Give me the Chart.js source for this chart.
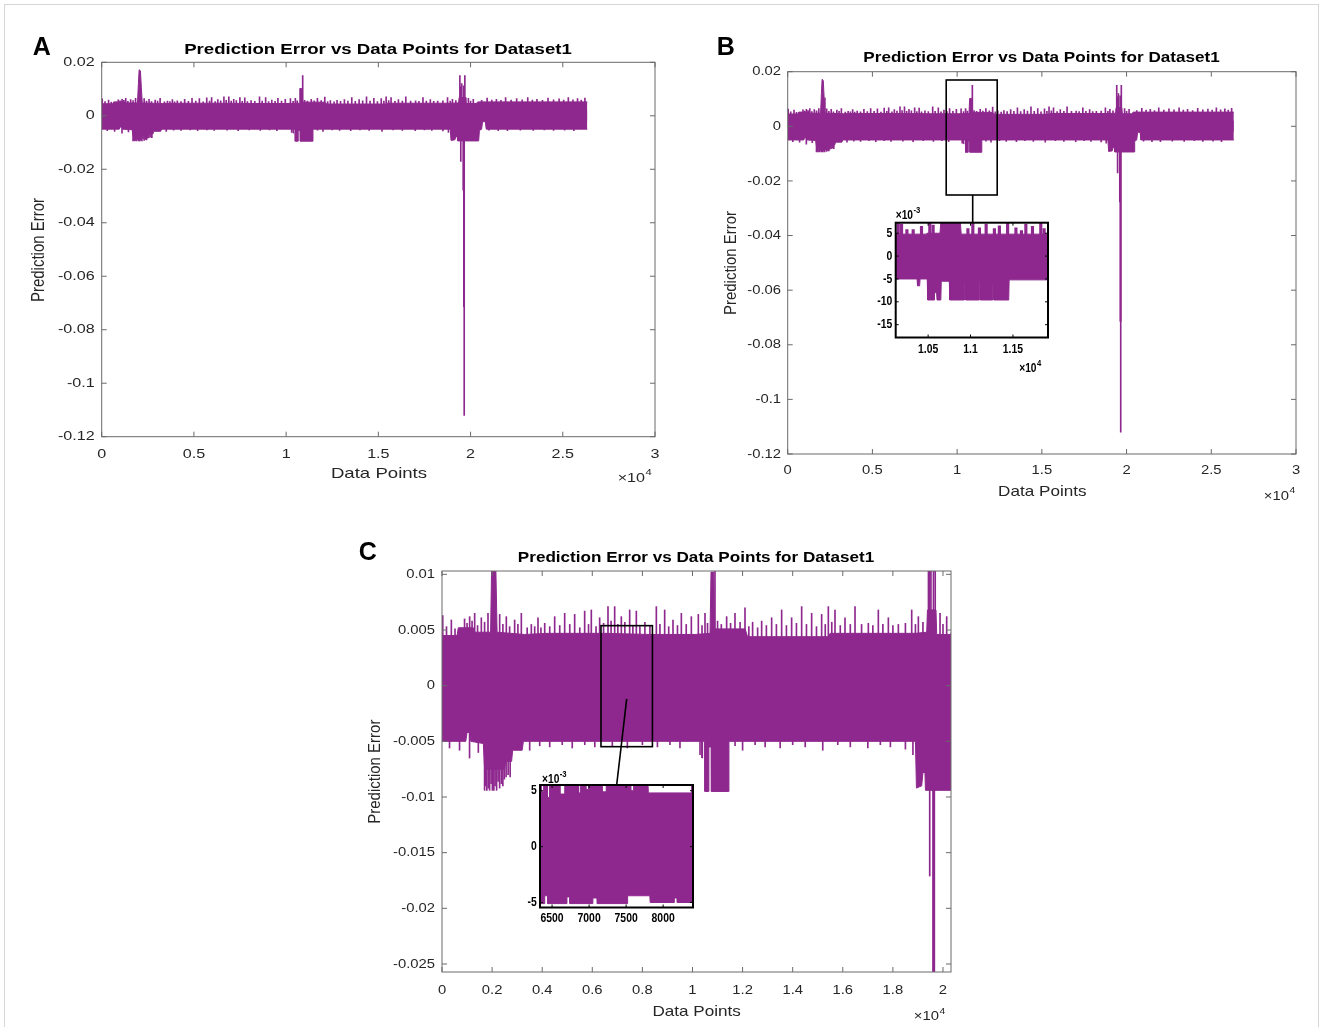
<!DOCTYPE html>
<html>
<head>
<meta charset="utf-8">
<script src="https://cdn.jsdelivr.net/npm/chart.js@4/dist/chart.umd.min.js"></script>
<style>
  body { margin: 0; background: #fff; }
  #wrap { position: relative; width: 1328px; height: 1027px; overflow: hidden; }
  #frame { position: absolute; left: 4px; top: 4px; width: 1313px; height: 1060px; border: 1px solid #d6d6d6; }
  canvas { position: absolute; left: 0; top: 0; }
</style>
</head>
<body>
<div id="wrap">
  <div id="frame"></div>
  <canvas id="panelA" width="1328" height="1027"></canvas>
  <canvas id="panelB" width="1328" height="1027"></canvas>
  <canvas id="insetB" width="1328" height="1027"></canvas>
  <canvas id="panelC" width="1328" height="1027"></canvas>
  <canvas id="insetC" width="1328" height="1027"></canvas>
</div>
<script>
// Prediction error band (upper / lower edge of the dense trace)
const topX = [0, 600, 650, 1250, 1300, 1940, 1990, 2030, 2100, 2150, 2200, 3300, 4200, 6500, 8300, 10100,
  10700, 10740, 10850, 10880, 12100, 12200, 15400, 15500, 18900, 19350, 19380, 19720, 19750, 20300, 20400, 26330];
const topY = [0.0045, 0.0045, 0.0052, 0.0052, 0.0048, 0.0048, 0.0120, 0.0172, 0.0168, 0.0105, 0.0048, 0.0046,
  0.0047, 0.0047, 0.0046, 0.0046, 0.0047, 0.0102, 0.0102, 0.0051, 0.0051, 0.0044, 0.0044, 0.0047, 0.0047,
  0.0048, 0.0068, 0.0068, 0.0046, 0.0046, 0.0052, 0.0052];
const botX = [0, 950, 1000, 1100, 1150, 1650, 1700, 2500, 2550, 2780, 2820, 3200, 3250,
  10370, 10375, 10400, 10405, 10490, 10495, 10650, 10655, 10750, 10755, 11450, 11455, 18900, 18940, 19150,
  19200, 19280, 19300, 20440, 20480, 20600, 20650, 20800, 20850, 26330];
const botY = [-0.005, -0.005, -0.0042, -0.0042, -0.005, -0.0052, -0.0075, -0.0075, -0.0068, -0.0068,
  -0.0058, -0.0058, -0.005, -0.005, -0.0065, -0.0065, -0.005, -0.005,
  -0.0095, -0.0095, -0.0055, -0.0055, -0.0095, -0.0095, -0.005, -0.005, -0.0092, -0.009,
  -0.0078, -0.0078, -0.0094, -0.0094, -0.0055, -0.005, -0.0022, -0.0022, -0.005, -0.005];

// single spikes sticking out of the band: [data point, error]
const upSpikes = [[30, 0.0063], [180, 0.0053], [373, 0.0059], [520, 0.0051], [900, 0.0060], [1000, 0.0056],
  [1104, 0.0062], [1200, 0.0058], [1304, 0.0065], [1420, 0.0054], [1570, 0.0061], [1700, 0.0057],
  [1836, 0.0065], [2302, 0.0064], [2430, 0.0055], [2568, 0.0062], [2700, 0.0053], [2900, 0.0059],
  [3030, 0.0055], [3167, 0.0065], [3400, 0.0052], [3566, 0.0055], [3700, 0.0053], [3832, 0.0061],
  [3950, 0.0052], [4100, 0.0056], [4300, 0.0053], [4498, 0.0062], [4700, 0.0054], [4897, 0.0065],
  [5100, 0.0055], [5296, 0.0064], [5500, 0.0052], [5695, 0.0067], [5850, 0.0055], [5961, 0.0068],
  [6150, 0.0053], [6294, 0.0061], [6450, 0.0056], [6627, 0.0071], [6750, 0.0058], [6893, 0.0071],
  [7020, 0.0055], [7159, 0.0062], [7300, 0.0057], [7492, 0.0068], [7620, 0.0054], [7758, 0.0067],
  [7900, 0.0053], [8100, 0.0057], [8300, 0.0054], [8557, 0.0071], [8700, 0.0055], [8889, 0.0068],
  [9050, 0.0053], [9222, 0.0059], [9400, 0.0054], [9555, 0.0065], [9750, 0.0055], [9954, 0.0062],
  [10233, 0.0064], [10380, 0.0054], [10499, 0.0065], [10600, 0.0056], [10898, 0.0150], [11000, 0.0058],
  [11150, 0.0055], [11363, 0.0062], [11520, 0.0056], [11696, 0.0065], [11900, 0.0057], [12096, 0.0070],
  [12250, 0.0053], [12400, 0.0057], [12600, 0.0052], [12761, 0.0058], [12950, 0.0054], [13160, 0.0061],
  [13350, 0.0055], [13559, 0.0068], [13750, 0.0054], [13958, 0.0061], [14150, 0.0056], [14358, 0.0071],
  [14550, 0.0055], [14757, 0.0065], [14950, 0.0053], [15156, 0.0064], [15300, 0.0055], [15423, 0.0071],
  [15560, 0.0057], [15689, 0.0068], [15900, 0.0054], [16088, 0.0061], [16300, 0.0055], [16488, 0.0071],
  [16750, 0.0055], [17020, 0.0056], [17200, 0.0054], [17419, 0.0068], [17600, 0.0055], [17819, 0.0061],
  [18000, 0.0054], [18218, 0.0055], [18500, 0.0056], [18751, 0.0068], [18900, 0.0055], [19017, 0.0062],
  [19200, 0.0057], [19420, 0.0150], [19470, 0.0108], [19520, 0.0120], [19620, 0.0112], [19690, 0.0150],
  [19882, 0.0065], [20000, 0.0055], [20148, 0.0062], [20600, 0.0058], [20900, 0.0066], [21150, 0.0059],
  [21400, 0.0062], [21650, 0.0058], [21900, 0.0068], [22200, 0.0059], [22500, 0.0064], [22800, 0.0060],
  [23100, 0.0068], [23350, 0.0059], [23600, 0.0062], [23900, 0.0058], [24200, 0.0066], [24500, 0.0060],
  [24800, 0.0063], [25050, 0.0059], [25300, 0.0068], [25550, 0.0060], [25800, 0.0064], [26000, 0.0059],
  [26200, 0.0066]];
const downSpikes = [[300, -0.0056], [700, -0.0058], [1100, -0.0065], [1450, -0.0060],
  [1700, -0.0094], [1740, -0.0090], [1790, -0.0094], [1850, -0.0092], [1900, -0.0094], [1960, -0.0088],
  [2010, -0.0094], [2070, -0.0094], [2120, -0.0090], [2180, -0.0094], [2240, -0.0086], [2300, -0.0092],
  [2370, -0.0088], [2430, -0.0090], [2490, -0.0084], [2560, -0.0082], [2640, -0.0080], [2720, -0.0082],
  [3500, -0.0058], [3900, -0.0054], [4300, -0.0055], [4800, -0.0053], [5200, -0.0056], [5700, -0.0053],
  [6100, -0.0055], [6800, -0.0054], [7400, -0.0056], [8000, -0.0053], [8600, -0.0055], [9100, -0.0053],
  [9500, -0.0056], [10300, -0.0062], [11700, -0.0054], [12000, -0.0058], [12500, -0.0053], [12900, -0.0055],
  [13500, -0.0056], [14000, -0.0053], [14500, -0.0055], [15200, -0.0058], [15800, -0.0053],
  [16300, -0.0055], [17000, -0.0056], [17500, -0.0053], [17900, -0.0055], [18500, -0.0057],
  [18800, -0.0062], [19470, -0.0171], [19600, -0.0277], [19640, -0.0714], [19645, -0.0714],
  [19655, -0.112], [21000, -0.0054], [21500, -0.0056], [22000, -0.0056], [22700, -0.0054],
  [23400, -0.0055], [24000, -0.0053], [24500, -0.0055], [25100, -0.0054], [25600, -0.0056]];

// inset of panel B (1.01e4 .. 1.19e4)
const ibTopX = [10118, 10480, 10485, 10640, 10650, 10880, 10890, 11913];
const ibTopY = [0.0048, 0.0048, 0.0050, 0.0050, 0.0075, 0.0075, 0.0048, 0.0048];
const ibBotX = [10118, 10370, 10375, 10400, 10405, 10490, 10495, 10570, 10575, 10600, 10605, 10650, 10655,
  10750, 10755, 10925, 10928, 10940, 10943, 11100, 11103, 11112, 11115, 11260, 11263, 11272, 11275,
  11450, 11455, 11913];
const ibBotY = [-0.0050, -0.0050, -0.0065, -0.0065, -0.0050, -0.0050, -0.0096, -0.0096, -0.0080, -0.0080,
  -0.0096, -0.0096, -0.0055, -0.0055, -0.0096, -0.0096, -0.0060, -0.0060, -0.0096, -0.0096,
  -0.0055, -0.0055, -0.0096, -0.0096, -0.0065, -0.0065, -0.0096, -0.0096, -0.0052, -0.0052];
const ibSpikes = [[10148, 0.0075], [10187, 0.0070], [10250, 0.0058], [10324, 0.0058], [10422, 0.0065],
  [10520, 0.0075], [10559, 0.0068], [10969, 0.0060], [11027, 0.0075], [11105, 0.0062], [11184, 0.0070],
  [11281, 0.0060], [11340, 0.0066], [11437, 0.0075], [11535, 0.0062], [11600, 0.0056], [11652, 0.0070],
  [11730, 0.0065], [11828, 0.0075], [11867, 0.0060]];

// inset of panel C (6350 .. 8400)
const icTopX = [6337, 6355, 6356, 6385, 6386, 6435, 6436, 6465, 6466, 6605, 6606, 6670, 6671, 6855, 6856,
  6880, 6881, 6955, 6956, 6990, 6991, 7175, 7176, 7230, 7231, 7565, 7566, 7600, 7601, 7795, 7800, 8403];
const icTopY = [0.0056, 0.0056, 0.0049, 0.0049, 0.0056, 0.0056, 0.0044, 0.0044, 0.0056, 0.0056, 0.0047,
  0.0047, 0.0056, 0.0056, 0.0048, 0.0048, 0.0056, 0.0056, 0.0051, 0.0051, 0.0056, 0.0056, 0.0049, 0.0049,
  0.0056, 0.0056, 0.0050, 0.0050, 0.0056, 0.0056, 0.0048, 0.0048];
const icBotX = [6337, 6400, 6401, 6440, 6441, 6700, 6701, 6740, 6741, 7050, 7051, 7110, 7111, 7515, 7520,
  7820, 7825, 8150, 8151, 8190, 8191, 8403];
const icBotY = [-0.0051, -0.0051, -0.0044, -0.0044, -0.0051, -0.0051, -0.0045, -0.0045, -0.0051, -0.0051,
  -0.0046, -0.0046, -0.0051, -0.0051, -0.0044, -0.0044, -0.0050, -0.0050, -0.0046, -0.0046, -0.0050, -0.0050];
const icSpikes = [[8395, 0.0056]];

// ticks
const abXTicks = [0, 5000, 10000, 15000, 20000, 25000, 30000];
const abXLabels = ['0', '0.5', '1', '1.5', '2', '2.5', '3'];
const abYTicks = [0.02, 0, -0.02, -0.04, -0.06, -0.08, -0.1, -0.12];
const abYLabels = ['0.02', '0', '-0.02', '-0.04', '-0.06', '-0.08', '-0.1', '-0.12'];
const cXTicks = [0, 2000, 4000, 6000, 8000, 10000, 12000, 14000, 16000, 18000, 20000];
const cXLabels = ['0', '0.2', '0.4', '0.6', '0.8', '1', '1.2', '1.4', '1.6', '1.8', '2'];
const cYTicks = [0.01, 0.005, 0, -0.005, -0.01, -0.015, -0.02, -0.025];
const cYLabels = ['0.01', '0.005', '0', '-0.005', '-0.01', '-0.015', '-0.02', '-0.025'];
const ibXTicks = [10500, 11000, 11500];
const ibXLabels = ['1.05', '1.1', '1.15'];
const ibYTicks = [0.005, 0, -0.005, -0.01, -0.015];
const ibYLabels = ['5', '0', '-5', '-10', '-15'];
const icXTicks = [6500, 7000, 7500, 8000];
const icXLabels = ['6500', '7000', '7500', '8000'];
const icYTicks = [0.005, 0, -0.005];
const icYLabels = ['5', '0', '-5'];

// zoom rectangles and their connector lines, in data units of the host axes
const bZoomBox = [9355, 12365, 0.01696, -0.02515];
const bLink = [10918, -0.02515, 10918, -0.0353];
const cZoomBox = [6347, 8400, 0.00539, -0.00548];
const cLink = [7373, -0.00119, 6978, -0.00883];

const TITLE = 'Prediction Error vs Data Points for Dataset1';
const PURPLE = '#8e288e';
const FONT = '"Liberation Sans", Arial, Helvetica, sans-serif';

function pts(xs, ys) { return xs.map((x, i) => ({x: x, y: ys[i]})); }
function bars(list) { return list.map(p => ({x: p[0], y: [0, p[1]]})); }

function drawText(ctx, t) {
  ctx.save();
  ctx.translate(t.x, t.y);
  ctx.scale(t.sx || 1, 1);
  if (t.rot) ctx.rotate(t.rot);
  ctx.font = t.font;
  ctx.fillStyle = t.color || '#262626';
  ctx.textAlign = t.align || 'center';
  ctx.textBaseline = 'middle';
  ctx.fillText(t.s, 0, 0);
  ctx.restore();
}

function box(ctx, xs, ys, b) {
  const x0 = xs.getPixelForValue(b[0]), x1 = xs.getPixelForValue(b[1]);
  const y0 = ys.getPixelForValue(b[2]), y1 = ys.getPixelForValue(b[3]);
  ctx.strokeRect(x0, y0, x1 - x0, y1 - y0);
}
function link(ctx, xs, ys, l) {
  ctx.beginPath();
  ctx.moveTo(xs.getPixelForValue(l[0]), ys.getPixelForValue(l[1]));
  ctx.lineTo(xs.getPixelForValue(l[2]), ys.getPixelForValue(l[3]));
  ctx.stroke();
}

function axesPlugin(p) {
  return {
    id: 'matlabAxes',
    beforeDatasetsDraw(chart) {
      if (!p.inset) return;
      const a = chart.chartArea, ctx = chart.ctx;
      ctx.save();
      ctx.fillStyle = '#fff';
      ctx.fillRect(a.left, a.top, a.right - a.left, a.bottom - a.top);
      ctx.restore();
    },
    afterDraw(chart) {
      const ctx = chart.ctx, a = chart.chartArea, xs = chart.scales.x, ys = chart.scales.y;
      ctx.save();
      ctx.strokeStyle = p.boxColor;
      ctx.lineWidth = p.boxWidth;
      ctx.strokeRect(a.left, a.top, a.right - a.left, a.bottom - a.top);
      ctx.lineWidth = 1;
      ctx.beginPath();
      p.xTicks.forEach(v => {
        const px = xs.getPixelForValue(v);
        ctx.moveTo(px, a.bottom); ctx.lineTo(px, a.bottom - p.tickLen);
        ctx.moveTo(px, a.top); ctx.lineTo(px, a.top + p.tickLen);
      });
      p.yTicks.forEach(v => {
        const py = ys.getPixelForValue(v);
        ctx.moveTo(a.left, py); ctx.lineTo(a.left + p.tickLen, py);
        ctx.moveTo(a.right, py); ctx.lineTo(a.right - p.tickLen, py);
      });
      ctx.stroke();
      if (p.marks) {
        ctx.strokeStyle = '#000';
        ctx.lineWidth = 1.6;
        p.marks(ctx, xs, ys);
      }
      ctx.restore();
      p.xTicks.forEach((v, i) => drawText(ctx, {s: p.xLabels[i], x: xs.getPixelForValue(v), y: p.xLabelY,
        font: p.tickFont, sx: p.sx, color: p.textColor}));
      p.yTicks.forEach((v, i) => drawText(ctx, {s: p.yLabels[i], x: p.yLabelX, y: ys.getPixelForValue(v),
        font: p.tickFont, sx: p.sx, align: 'right', color: p.textColor}));
      (p.texts || []).forEach(t => drawText(ctx, t));
    }
  };
}

function makeChart(id, p, series) {
  const a = p.area;
  // both halves of the band overlap a little so no seam shows at zero
  const datasets = [
    {data: pts(series.topX, series.topY), fill: {value: -0.002}},
    {data: pts(series.botX, series.botY), fill: {value: 0.002}}
  ].map(d => Object.assign(d, {
    borderColor: PURPLE, backgroundColor: PURPLE, borderWidth: 1, pointRadius: 0, clip: 0
  }));
  datasets.push({
    type: 'bar', data: bars(series.spikes), backgroundColor: PURPLE, borderWidth: 0,
    barThickness: p.spikeWidth, grouped: false, clip: 0
  });
  return new Chart(document.getElementById(id), {
    type: 'line',
    data: {datasets: datasets},
    options: {
      responsive: false,
      animation: false,
      events: [],
      layout: {padding: {left: a.l, top: a.t, right: 1328 - a.r, bottom: 1027 - a.b}},
      plugins: {legend: {display: false}, tooltip: {enabled: false}},
      scales: {
        x: {type: 'linear', display: false, offset: false, min: p.xMin, max: p.xMax},
        y: {type: 'linear', display: false, min: p.yMin, max: p.yMax}
      }
    },
    plugins: [axesPlugin(p)]
  });
}

const mainSeries = {topX: topX, topY: topY, botX: botX, botY: botY, spikes: upSpikes.concat(downSpikes)};
const mainStyle = {boxColor: '#6a6a6a', boxWidth: 1, tickLen: 5, textColor: '#262626', spikeWidth: 1};
const insetStyle = {boxColor: '#000', boxWidth: 2, tickLen: 3, textColor: '#000', inset: true,
  tickFont: 'bold 13px ' + FONT, sx: 0.8};

function sup(base, exp, x, y, size, sx, bold, color) {
  const w = bold ? 'bold ' : '';
  return [
    {s: base, x: x, y: y, font: w + size + 'px ' + FONT, sx: sx, align: 'right', color: color},
    {s: exp, x: x + 0.5, y: y - 5, font: w + Math.round(size * 0.72) + 'px ' + FONT, sx: sx, align: 'left', color: color}
  ];
}

// Panel A
makeChart('panelA', Object.assign({}, mainStyle, {
  area: {l: 101.7, t: 62.3, r: 655, b: 436.7},
  xMin: 0, xMax: 30000, yMin: -0.12, yMax: 0.02,
  xTicks: abXTicks, xLabels: abXLabels, yTicks: abYTicks, yLabels: abYLabels,
  tickFont: '13px ' + FONT, sx: 1.24, xLabelY: 454, yLabelX: 94.7,
  texts: [
    {s: 'A', x: 41.7, y: 48, font: 'bold 25px ' + FONT, color: '#000'},
    {s: TITLE, x: 378, y: 50, font: 'bold 15px ' + FONT, sx: 1.24, color: '#000'},
    {s: 'Data Points', x: 379, y: 474.3, font: '15px ' + FONT, sx: 1.24},
    {s: 'Prediction Error', x: 38.7, y: 250, font: '15px ' + FONT, sx: 1.24, rot: -Math.PI / 2}
  ].concat(sup('\u00d710', '4', 645, 478, 13, 1.24, false, '#262626'))
}), mainSeries);

// Panel B
makeChart('panelB', Object.assign({}, mainStyle, {
  area: {l: 787.7, t: 71.7, r: 1296, b: 454},
  xMin: 0, xMax: 30000, yMin: -0.12, yMax: 0.02,
  xTicks: abXTicks, xLabels: abXLabels, yTicks: abYTicks, yLabels: abYLabels,
  tickFont: '13px ' + FONT, sx: 1.14, xLabelY: 470.7, yLabelX: 781,
  texts: [
    {s: 'B', x: 725.7, y: 48.3, font: 'bold 25px ' + FONT, color: '#000'},
    {s: TITLE, x: 1041.5, y: 58.3, font: 'bold 15px ' + FONT, sx: 1.14, color: '#000'},
    {s: 'Data Points', x: 1042.3, y: 492.3, font: '15px ' + FONT, sx: 1.14},
    {s: 'Prediction Error', x: 730.8, y: 263, font: '15px ' + FONT, sx: 1.14, rot: -Math.PI / 2}
  ].concat(sup('\u00d710', '4', 1289, 496, 13, 1.14, false, '#262626')),
  marks(ctx, xs, ys) { box(ctx, xs, ys, bZoomBox); link(ctx, xs, ys, bLink); }
}), mainSeries);

makeChart('insetB', Object.assign({}, insetStyle, {
  area: {l: 895.7, t: 222.7, r: 1048, b: 337.5},
  xMin: 10118, xMax: 11913, yMin: -0.0178, yMax: 0.0073,
  xTicks: ibXTicks, xLabels: ibXLabels, yTicks: ibYTicks, yLabels: ibYLabels,
  xLabelY: 349.3, yLabelX: 892.3, spikeWidth: 2.5,
  texts: sup('\u00d710', '-3', 913, 216, 12, 0.85, true, '#000')
    .concat(sup('\u00d710', '4', 1036.5, 368.3, 12, 0.85, true, '#000'))
}), {topX: ibTopX, topY: ibTopY, botX: ibBotX, botY: ibBotY, spikes: ibSpikes});

// Panel C
makeChart('panelC', Object.assign({}, mainStyle, {
  area: {l: 442, t: 571, r: 951, b: 972},
  xMin: 0, xMax: 20320, yMin: -0.02572, yMax: 0.0103,
  xTicks: cXTicks, xLabels: cXLabels, yTicks: cYTicks, yLabels: cYLabels,
  tickFont: '13px ' + FONT, sx: 1.14, xLabelY: 990, yLabelX: 435,
  texts: [
    {s: 'C', x: 367.8, y: 553.3, font: 'bold 25px ' + FONT, color: '#000'},
    {s: TITLE, x: 696, y: 557.7, font: 'bold 15px ' + FONT, sx: 1.14, color: '#000'},
    {s: 'Data Points', x: 696.6, y: 1012.3, font: '15px ' + FONT, sx: 1.14},
    {s: 'Prediction Error', x: 375.7, y: 771.7, font: '15px ' + FONT, sx: 1.14, rot: -Math.PI / 2}
  ].concat(sup('\u00d710', '4', 939, 1016.7, 13, 1.14, false, '#262626')),
  marks(ctx, xs, ys) { box(ctx, xs, ys, cZoomBox); link(ctx, xs, ys, cLink); }
}), mainSeries);

makeChart('insetC', Object.assign({}, insetStyle, {
  area: {l: 540, t: 785, r: 693, b: 907.5},
  xMin: 6337, xMax: 8403, yMin: -0.00545, yMax: 0.00551,
  xTicks: icXTicks, xLabels: icXLabels, yTicks: icYTicks, yLabels: icYLabels,
  xLabelY: 918.3, yLabelX: 536.7, spikeWidth: 2,
  texts: sup('\u00d710', '-3', 559.3, 780, 12, 0.85, true, '#000')
}), {topX: icTopX, topY: icTopY, botX: icBotX, botY: icBotY, spikes: icSpikes});
</script>
</body>
</html>
